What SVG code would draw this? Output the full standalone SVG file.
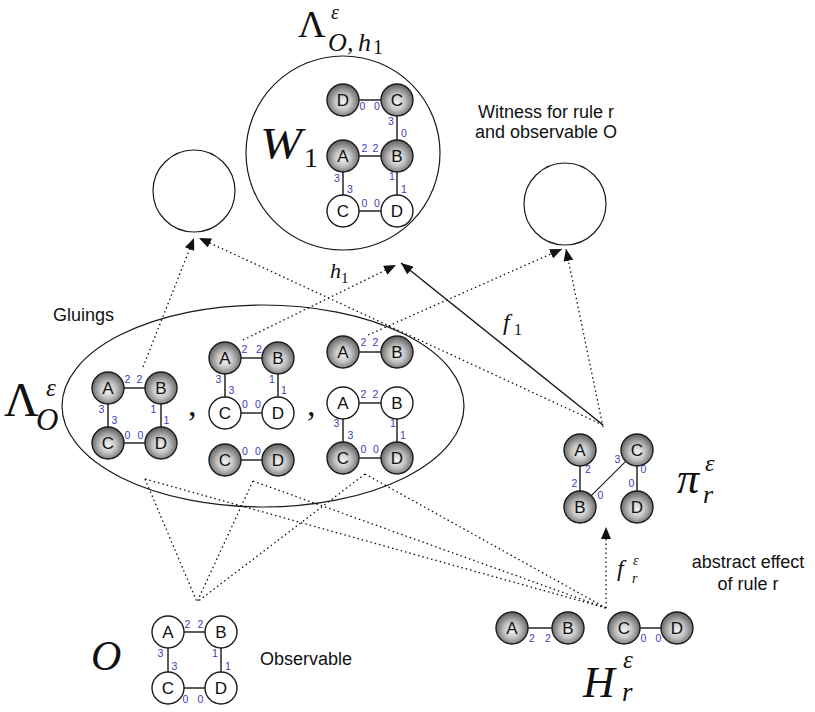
<svg xmlns="http://www.w3.org/2000/svg" width="815" height="712" viewBox="0 0 815 712">
<defs>
<radialGradient id="gg" cx="0.5" cy="0.55" r="0.55" fx="0.5" fy="0.58">
<stop offset="0" stop-color="#f4f4f4"/>
<stop offset="0.45" stop-color="#c4c4c4"/>
<stop offset="1" stop-color="#5c5c5c"/>
</radialGradient>
<marker id="ah" markerUnits="userSpaceOnUse" markerWidth="12" markerHeight="10" viewBox="0 0 12 10" refX="12" refY="5" orient="auto">
<path d="M0,0 L12,5 L0,10 z" fill="#111"/>
</marker>
<style>
.ng{fill:url(#gg);stroke:#1c1c1c;stroke-width:1.4}
.nw{fill:#fff;stroke:#1c1c1c;stroke-width:1.4}
.lt{font-family:"Liberation Sans",Arial,sans-serif;font-size:17px;text-anchor:middle;fill:#111}
.e{stroke:#333;stroke-width:1.6}
.p{font-family:"Liberation Sans",Arial,sans-serif;font-size:10.5px;fill:#3c3cb4;text-anchor:middle}
.dot{stroke:#111;stroke-width:1.3;stroke-dasharray:1.5 3;fill:none}
.sol{stroke:#111;stroke-width:1.3;fill:none}
.m{font-family:"Liberation Serif","Times New Roman",serif;font-style:italic;fill:#111}
.up{font-family:"Liberation Serif","Times New Roman",serif;fill:#111}
.lbl{font-family:"Liberation Sans",Arial,sans-serif;font-size:18px;fill:#111}
.ring{fill:none;stroke:#1a1a1a;stroke-width:1.2}
</style>
</defs>
<rect width="815" height="712" fill="#fff"/>

<!-- containers -->
<g id="witness-W1-circle"><circle class="ring" cx="343" cy="153" r="97"/></g>
<g id="witness-left-circle"><circle class="ring" cx="194" cy="191" r="41"/></g>
<g id="witness-right-circle"><circle class="ring" cx="565" cy="204" r="41"/></g>
<g id="gluings-ellipse"><ellipse class="ring" cx="263" cy="406" rx="201" ry="101"/></g>

<!-- connectors -->
<g id="connectors">
<line class="dot" x1="143" y1="367" x2="194" y2="238" marker-end="url(#ah)"/>
<line class="dot" x1="603" y1="425" x2="199" y2="238" marker-end="url(#ah)"/>
<line class="dot" x1="243" y1="340" x2="396" y2="265" marker-end="url(#ah)"/>
<line class="sol" x1="603" y1="425" x2="401" y2="263" marker-end="url(#ah)"/>
<line class="dot" x1="368" y1="335" x2="562" y2="249" marker-end="url(#ah)"/>
<line class="dot" x1="603" y1="427" x2="566" y2="249" marker-end="url(#ah)"/>
<line class="dot" x1="606" y1="608" x2="606" y2="527" marker-end="url(#ah)"/>
<line class="dot" x1="145" y1="479" x2="197" y2="602"/>
<line class="dot" x1="253" y1="481" x2="197" y2="602"/>
<line class="dot" x1="365" y1="474" x2="197" y2="602"/>
<line class="dot" x1="145" y1="479" x2="606" y2="608"/>
<line class="dot" x1="253" y1="481" x2="606" y2="608"/>
<line class="dot" x1="365" y1="474" x2="606" y2="608"/>
</g>

<!-- W1 graph -->
<g id="W1">
<line class="e" x1="359" y1="100" x2="381" y2="100"/>
<line class="e" x1="397" y1="116" x2="397" y2="140"/>
<line class="e" x1="359" y1="156" x2="381" y2="156"/>
<line class="e" x1="343" y1="172" x2="343" y2="195"/>
<line class="e" x1="397" y1="172" x2="397" y2="195"/>
<line class="e" x1="359" y1="211" x2="381" y2="211"/>
<g id="W1-D1"><circle class="ng" cx="343" cy="100" r="16"/><text class="lt" x="343" y="106">D</text></g>
<g id="W1-C1"><circle class="ng" cx="397" cy="100" r="16"/><text class="lt" x="397" y="106">C</text></g>
<g id="W1-A"><circle class="ng" cx="343" cy="156" r="16"/><text class="lt" x="343" y="162">A</text></g>
<g id="W1-B"><circle class="ng" cx="397" cy="156" r="16"/><text class="lt" x="397" y="162">B</text></g>
<g id="W1-C2"><circle class="nw" cx="343" cy="211" r="16"/><text class="lt" x="343" y="217">C</text></g>
<g id="W1-D2"><circle class="nw" cx="397" cy="211" r="16"/><text class="lt" x="397" y="217">D</text></g>
<text class="p" x="362.5" y="110">0</text><text class="p" x="377" y="110">0</text>
<text class="p" x="391" y="125">3</text><text class="p" x="404" y="137">0</text>
<text class="p" x="364.5" y="152">2</text><text class="p" x="375.5" y="152">2</text>
<text class="p" x="337" y="182">3</text><text class="p" x="350" y="193">3</text>
<text class="p" x="392" y="180">1</text><text class="p" x="404" y="193">1</text>
<text class="p" x="364.5" y="207">0</text><text class="p" x="377" y="207">0</text>
</g>

<!-- gluing 1 -->
<g id="gluing1">
<line class="e" x1="124" y1="388" x2="145" y2="388"/>
<line class="e" x1="108" y1="404" x2="108" y2="427"/>
<line class="e" x1="161" y1="404" x2="161" y2="427"/>
<line class="e" x1="124" y1="443" x2="145" y2="443"/>
<g id="g1-A"><circle class="ng" cx="108" cy="388" r="16"/><text class="lt" x="108" y="394">A</text></g>
<g id="g1-B"><circle class="ng" cx="161" cy="388" r="16"/><text class="lt" x="161" y="394">B</text></g>
<g id="g1-C"><circle class="ng" cx="108" cy="443" r="16"/><text class="lt" x="108" y="449">C</text></g>
<g id="g1-D"><circle class="ng" cx="161" cy="443" r="16"/><text class="lt" x="161" y="449">D</text></g>
<text class="p" x="127.5" y="383">2</text><text class="p" x="139.5" y="383">2</text>
<text class="p" x="101.5" y="413">3</text><text class="p" x="114.5" y="424">3</text>
<text class="p" x="153.5" y="413">1</text><text class="p" x="166.5" y="424">1</text>
<text class="p" x="127.5" y="439">0</text><text class="p" x="140.5" y="439">0</text>
</g>

<!-- gluing 2 -->
<g id="gluing2">
<line class="e" x1="241" y1="358" x2="262" y2="358"/>
<line class="e" x1="225" y1="374" x2="225" y2="397"/>
<line class="e" x1="278" y1="374" x2="278" y2="397"/>
<line class="e" x1="241" y1="413" x2="262" y2="413"/>
<line class="e" x1="241" y1="460" x2="262" y2="460"/>
<g id="g2-A"><circle class="ng" cx="225" cy="358" r="16"/><text class="lt" x="225" y="364">A</text></g>
<g id="g2-B"><circle class="ng" cx="278" cy="358" r="16"/><text class="lt" x="278" y="364">B</text></g>
<g id="g2-C"><circle class="nw" cx="225" cy="413" r="16"/><text class="lt" x="225" y="419">C</text></g>
<g id="g2-D"><circle class="nw" cx="278" cy="413" r="16"/><text class="lt" x="278" y="419">D</text></g>
<g id="g2-C2"><circle class="ng" cx="225" cy="460" r="16"/><text class="lt" x="225" y="466">C</text></g>
<g id="g2-D2"><circle class="ng" cx="278" cy="460" r="16"/><text class="lt" x="278" y="466">D</text></g>
<text class="p" x="244.5" y="353">2</text><text class="p" x="259" y="353">2</text>
<text class="p" x="218.5" y="383">3</text><text class="p" x="231.5" y="394">3</text>
<text class="p" x="272" y="383">1</text><text class="p" x="284" y="394">1</text>
<text class="p" x="245" y="408">0</text><text class="p" x="258" y="408">0</text>
<text class="p" x="245" y="455">0</text><text class="p" x="258" y="455">0</text>
</g>

<!-- gluing 3 -->
<g id="gluing3">
<line class="e" x1="359" y1="352" x2="381" y2="352"/>
<line class="e" x1="359" y1="403" x2="381" y2="403"/>
<line class="e" x1="343" y1="419" x2="343" y2="442"/>
<line class="e" x1="397" y1="419" x2="397" y2="442"/>
<line class="e" x1="359" y1="458" x2="381" y2="458"/>
<g id="g3-A1"><circle class="ng" cx="343" cy="352" r="16"/><text class="lt" x="343" y="358">A</text></g>
<g id="g3-B1"><circle class="ng" cx="397" cy="352" r="16"/><text class="lt" x="397" y="358">B</text></g>
<g id="g3-A2"><circle class="nw" cx="343" cy="403" r="16"/><text class="lt" x="343" y="409">A</text></g>
<g id="g3-B2"><circle class="nw" cx="397" cy="403" r="16"/><text class="lt" x="397" y="409">B</text></g>
<g id="g3-C"><circle class="ng" cx="343" cy="458" r="16"/><text class="lt" x="343" y="464">C</text></g>
<g id="g3-D"><circle class="ng" cx="397" cy="458" r="16"/><text class="lt" x="397" y="464">D</text></g>
<text class="p" x="363.5" y="346">2</text><text class="p" x="375.5" y="346">2</text>
<text class="p" x="363.5" y="398">2</text><text class="p" x="375.5" y="398">2</text>
<text class="p" x="336.5" y="427">3</text><text class="p" x="350.5" y="439">3</text>
<text class="p" x="393" y="427">1</text><text class="p" x="403" y="439">1</text>
<text class="p" x="363.5" y="453">0</text><text class="p" x="376" y="453">0</text>
</g>

<g id="commas">
<text class="up" x="188" y="416" font-size="34">,</text>
<text class="up" x="307" y="416" font-size="34">,</text>
</g>

<!-- pi -->
<g id="pi-graph">
<line class="e" x1="580" y1="466" x2="580" y2="491"/>
<line class="e" x1="637" y1="466" x2="637" y2="491"/>
<line x1="591.3" y1="495.7" x2="625.7" y2="461.3" stroke="#222" stroke-width="1.2"/>
<g id="pi-A"><circle class="ng" cx="580" cy="450" r="16"/><text class="lt" x="580" y="456">A</text></g>
<g id="pi-B"><circle class="ng" cx="580" cy="507" r="16"/><text class="lt" x="580" y="513">B</text></g>
<g id="pi-C"><circle class="ng" cx="637" cy="450" r="16"/><text class="lt" x="637" y="456">C</text></g>
<g id="pi-D"><circle class="ng" cx="637" cy="507" r="16"/><text class="lt" x="637" y="513">D</text></g>
<text class="p" x="588" y="473">2</text><text class="p" x="574.5" y="487">2</text>
<text class="p" x="643.5" y="473">0</text><text class="p" x="631.5" y="487">0</text>
<text class="p" x="617.5" y="463">3</text><text class="p" x="600.5" y="499">0</text>
</g>

<!-- observable -->
<g id="observable">
<line class="e" x1="184" y1="632" x2="205" y2="632"/>
<line class="e" x1="168" y1="648" x2="168" y2="672"/>
<line class="e" x1="221" y1="648" x2="221" y2="672"/>
<line class="e" x1="184" y1="688" x2="205" y2="688"/>
<g id="O-A"><circle class="nw" cx="168" cy="632" r="16"/><text class="lt" x="168" y="638">A</text></g>
<g id="O-B"><circle class="nw" cx="221" cy="632" r="16"/><text class="lt" x="221" y="638">B</text></g>
<g id="O-C"><circle class="nw" cx="168" cy="688" r="16"/><text class="lt" x="168" y="694">C</text></g>
<g id="O-D"><circle class="nw" cx="221" cy="688" r="16"/><text class="lt" x="221" y="694">D</text></g>
<text class="p" x="187.5" y="628">2</text><text class="p" x="200.5" y="628">2</text>
<text class="p" x="160.5" y="657">3</text><text class="p" x="174.5" y="670">3</text>
<text class="p" x="215" y="657">1</text><text class="p" x="228" y="670">1</text>
<text class="p" x="185.5" y="703">0</text><text class="p" x="200.5" y="703">0</text>
</g>

<!-- H -->
<g id="H-graph">
<line class="e" x1="528" y1="628" x2="552" y2="628"/>
<line class="e" x1="640" y1="628" x2="661" y2="628"/>
<g id="H-A"><circle class="ng" cx="512" cy="628" r="16"/><text class="lt" x="512" y="634">A</text></g>
<g id="H-B"><circle class="ng" cx="568" cy="628" r="16"/><text class="lt" x="568" y="634">B</text></g>
<g id="H-C"><circle class="ng" cx="624" cy="628" r="16"/><text class="lt" x="624" y="634">C</text></g>
<g id="H-D"><circle class="ng" cx="677" cy="628" r="16"/><text class="lt" x="677" y="634">D</text></g>
<text class="p" x="532" y="642">2</text><text class="p" x="548" y="642">2</text>
<text class="p" x="643.5" y="642">0</text><text class="p" x="658.5" y="642">0</text>
</g>

<!-- math labels -->
<g id="labels">
<text class="up" x="298" y="37" font-size="38">Λ</text>
<text class="m" x="331" y="19" font-size="20">ε</text>
<text class="m" x="328" y="51" font-size="26">O</text>
<text class="m" x="347" y="51" font-size="26">,</text>
<text class="m" x="358" y="51" font-size="26">h</text>
<text class="up" x="373" y="54" font-size="20">1</text>

<text class="m" x="260" y="158" font-size="44" textLength="42" lengthAdjust="spacingAndGlyphs">W</text>
<text class="up" x="304" y="167" font-size="28">1</text>

<text class="up" x="4" y="416" font-size="48">Λ</text>
<text class="m" x="46" y="396" font-size="25">ε</text>
<text class="m" x="36" y="430" font-size="31">O</text>

<text class="m" x="330" y="278" font-size="22">h</text>
<text class="up" x="341" y="283" font-size="15">1</text>

<text class="m" x="503" y="330" font-size="24">f</text>
<text class="up" x="514" y="335" font-size="16">1</text>

<text class="m" x="677" y="493" font-size="44">π</text>
<text class="m" x="705" y="471" font-size="24">ε</text>
<text class="m" x="703" y="503" font-size="26">r</text>

<text class="m" x="617" y="576" font-size="24">f</text>
<text class="m" x="633" y="565" font-size="14">ε</text>
<text class="m" x="632" y="583" font-size="14">r</text>

<text class="m" x="583" y="697" font-size="44">H</text>
<text class="m" x="623" y="668" font-size="25">ε</text>
<text class="m" x="622" y="701" font-size="27">r</text>

<text class="m" x="91" y="670" font-size="42">O</text>

<text class="lbl" x="53" y="321">Gluings</text>
<text class="lbl" x="260" y="665">Observable</text>
<text class="lbl" x="546" y="118" text-anchor="middle">Witness for rule r</text>
<text class="lbl" x="546" y="138" text-anchor="middle">and observable O</text>
<text class="lbl" x="748" y="568" text-anchor="middle">abstract effect</text>
<text class="lbl" x="748" y="590" text-anchor="middle">of rule r</text>
</g>
</svg>
